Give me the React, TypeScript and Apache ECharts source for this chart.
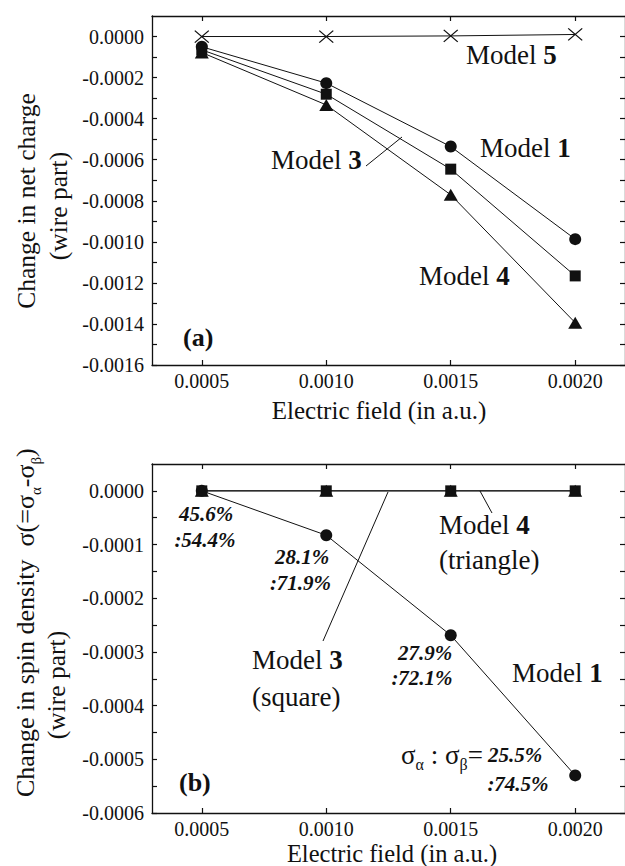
import React, { useEffect, useRef } from 'react';
import * as echarts from 'echarts';

// ---------- data ----------
const fieldValues = [0.0005, 0.001, 0.0015, 0.002];
const xTickValues = [0.0005, 0.001, 0.0015, 0.002];

// panel (a): change in net charge (wire part)
const chargeModel1 = [-0.00005, -0.000227, -0.000536, -0.000987];
const chargeModel3 = [-0.000065, -0.000281, -0.000646, -0.001166];
const chargeModel4 = [-0.000078, -0.000333, -0.000771, -0.001394];
const chargeModel5 = [0, 0, 0.000003, 0.00001];

// panel (b): change in spin density (wire part)
const spinModel1 = [0, -0.0000827, -0.000269, -0.00053];
const spinModel3 = [0, 0, 0, 0];
const spinModel4 = [0, 0, 0, 0];

// sigma_alpha : sigma_beta ratios for Model 1
const ratioAlpha = ['45.6%', '28.1%', '27.9%', '25.5%'];
const ratioBeta = [':54.4%', ':71.9%', ':72.1%', ':74.5%'];

// tick values
const chargeTickValues = [
  -0.0016, -0.0015, -0.0014, -0.0013, -0.0012, -0.0011, -0.001, -0.0009, -0.0008,
  -0.0007, -0.0006, -0.0005, -0.0004, -0.0003, -0.0002, -0.0001, 0,
];
const chargeLabelValues = [-0.0016, -0.0014, -0.0012, -0.001, -0.0008, -0.0006, -0.0004, -0.0002, 0];
const spinTickValues = [
  -0.0006, -0.00055, -0.0005, -0.00045, -0.0004, -0.00035, -0.0003, -0.00025, -0.0002,
  -0.00015, -0.0001, -0.00005, 0,
];
const spinLabelValues = [-0.0006, -0.0005, -0.0004, -0.0003, -0.0002, -0.0001, 0];

// ---------- styling ----------
const F = 'Liberation Serif';
const INK = '#111';

const pair = (ys: number[]) => fieldValues.map((x, i) => [x, ys[i]]);
const fmt = (v: number) => (Math.abs(v) < 1e-12 ? '0.0000' : v.toFixed(4));

const axisLine = { show: true, onZero: false, lineStyle: { color: INK, width: 1.3 } };
const tickStyle = { color: INK, width: 1.2 };
const labelStyle = { fontFamily: F, fontSize: 20, color: INK, fontWeight: 'normal' };

function xAxes(gridIndex: number) {
  const base = {
    type: 'value',
    gridIndex,
    min: 0.0003,
    max: 0.0022,
    axisLine,
    splitLine: { show: false },
    minorTick: { show: false },
  };
  return [
    {
      ...base,
      position: 'bottom',
      axisTick: { show: true, inside: true, length: 5, lineStyle: tickStyle, customValues: xTickValues },
      axisLabel: {
        show: true,
        customValues: xTickValues,
        formatter: fmt,
        ...labelStyle,
        margin: 6,
      },
    },
    {
      ...base,
      position: 'top',
      axisTick: { show: true, inside: true, length: 5, lineStyle: tickStyle, customValues: xTickValues },
      axisLabel: { show: false },
    },
  ];
}

function yAxes(gridIndex: number, min: number, max: number, ticks: number[], labels: number[]) {
  const base = {
    type: 'value',
    gridIndex,
    min,
    max,
    axisLine,
    splitLine: { show: false },
    minorTick: { show: false },
  };
  return [
    {
      ...base,
      position: 'left',
      axisTick: { show: true, inside: true, length: 5, lineStyle: tickStyle, customValues: ticks },
      axisLabel: {
        show: true,
        customValues: labels,
        formatter: fmt,
        ...labelStyle,
        margin: 8,
      },
    },
    {
      ...base,
      position: 'right',
      axisTick: { show: true, inside: true, length: 5, lineStyle: tickStyle, customValues: ticks },
      axisLabel: { show: false },
    },
  ];
}

function lineSeries(name: string, ys: number[], symbol: string, size: any, xi: number, yi: number, z: number) {
  const isPath = symbol.startsWith('path://');
  return {
    type: 'line',
    name,
    data: pair(ys),
    xAxisIndex: xi,
    yAxisIndex: yi,
    symbol,
    symbolSize: size,
    showSymbol: true,
    showAllSymbol: true,
    clip: false,
    silent: true,
    z,
    lineStyle: { color: INK, width: 1 },
    itemStyle: isPath
      ? { color: 'transparent', borderColor: INK, borderWidth: 1.2 }
      : { color: INK, borderWidth: 0 },
    emphasis: { disabled: true },
  };
}

const CROSS = 'path://M0,0L10,10M0,10L10,0';

const txt = (x: number, y: number, text: string, opts: any = {}, rotation = 0) => ({
  type: 'text',
  x,
  y,
  rotation,
  silent: true,
  z: 10,
  style: {
    text,
    fontFamily: F,
    fontSize: 27,
    fill: INK,
    align: 'left',
    verticalAlign: 'middle',
    ...opts,
  },
});

const modelRich = (size = 27) => ({
  r: { fontFamily: F, fontSize: size, fill: INK },
  b: { fontFamily: F, fontSize: size, fontWeight: 'bold', fill: INK },
});

const modelText = (x: number, y: number, num: string) =>
  txt(x, y, `{r|Model }{b|${num}}`, { rich: modelRich() });

const pct = (x: number, y: number, text: string) =>
  txt(x, y, text, { fontSize: 21, fontWeight: 'bold', fontStyle: 'italic', align: 'center' });

const leader = (x1: number, y1: number, x2: number, y2: number) => ({
  type: 'line',
  silent: true,
  z: 10,
  shape: { x1, y1, x2, y2 },
  style: { stroke: INK, lineWidth: 1 },
});

const option: any = {
  animation: false,
  backgroundColor: '#ffffff',
  textStyle: { fontFamily: F },
  grid: [
    { left: 152, top: 16, width: 475, height: 349, containLabel: false },
    { left: 152, top: 464, width: 475, height: 349, containLabel: false },
  ],
  xAxis: [...xAxes(0), ...xAxes(1)],
  yAxis: [
    ...yAxes(0, -0.0016, 0.0001, chargeTickValues, chargeLabelValues),
    ...yAxes(1, -0.0006, 0.00005, spinTickValues, spinLabelValues),
  ],
  series: [
    lineSeries('Model 5', chargeModel5, CROSS, [14, 12], 0, 0, 2),
    lineSeries('Model 1', chargeModel1, 'circle', 12, 0, 0, 3),
    lineSeries('Model 3', chargeModel3, 'rect', 11, 0, 0, 3),
    lineSeries('Model 4', chargeModel4, 'triangle', [14, 12], 0, 0, 3),
    lineSeries('Model 1', spinModel1, 'circle', 12, 2, 2, 3),
    lineSeries('Model 3', spinModel3, 'rect', 11, 2, 2, 3),
    lineSeries('Model 4', spinModel4, 'triangle', [14, 12], 2, 2, 3),
  ],
  graphic: {
    elements: [
      // ----- panel (a) -----
      txt(26, 201, 'Change in net charge', { fontSize: 25.5, align: 'center' }, Math.PI / 2),
      txt(58, 206, '(wire part)', { fontSize: 25.5, align: 'center' }, Math.PI / 2),
      txt(379, 410.5, 'Electric field (in a.u.)', { fontSize: 25, align: 'center' }),
      modelText(466, 55, '5'),
      modelText(480, 148, '1'),
      modelText(271, 160, '3'),
      modelText(419, 276, '4'),
      txt(183, 337, '(a)', { fontSize: 26, fontWeight: 'bold' }),
      leader(366, 166, 402, 137),

      // ----- panel (b) -----
      txt(
        25.5,
        797,
        '{m|Change in spin density\u00a0\u00a0σ(=σ}{s|α}{m|-σ}{s|β}{m|)}',
        {
          fontSize: 26,
          align: 'left',
          rich: {
            m: { fontFamily: F, fontSize: 26, lineHeight: 36, fill: INK },
            s: { fontFamily: F, fontSize: 15, lineHeight: 36, verticalAlign: 'bottom', fill: INK },
          },
        },
        Math.PI / 2,
      ),
      txt(56, 685, '(wire part)', { fontSize: 25.5, align: 'center' }, Math.PI / 2),
      txt(392, 853.5, 'Electric field (in a.u.)', { fontSize: 24.5, align: 'center' }),

      pct(206, 514, ratioAlpha[0]),
      pct(205, 540, ratioBeta[0]),
      pct(302, 557, ratioAlpha[1]),
      pct(300.5, 583, ratioBeta[1]),
      pct(425, 653, ratioAlpha[2]),
      pct(422, 678, ratioBeta[2]),
      txt(401, 755, `{g|σ}{s|α}{g|\u00a0:\u00a0σ}{s|β}{g|=}{p|\u00a0${ratioAlpha[3]}}`, {
        rich: {
          g: { fontFamily: F, fontSize: 27, lineHeight: 34, fill: INK },
          s: { fontFamily: F, fontSize: 16, lineHeight: 34, verticalAlign: 'bottom', fill: INK },
          p: { fontFamily: F, fontSize: 21, lineHeight: 34, fontWeight: 'bold', fontStyle: 'italic', fill: INK },
        },
      }),
      pct(518, 784, ratioBeta[3]),

      modelText(439, 525, '4'),
      txt(439, 560, '(triangle)'),
      modelText(252, 660, '3'),
      txt(252, 697, '(square)'),
      modelText(512, 673, '1'),
      txt(179, 782, '(b)', { fontSize: 26, fontWeight: 'bold' }),
      leader(323, 641, 388, 492),
      leader(480, 491, 492, 513),
    ],
  },
};

export default function App() {
  const ref = useRef<HTMLDivElement>(null);
  useEffect(() => {
    if (!ref.current) return;
    const chart = echarts.init(ref.current, null, { renderer: 'svg' });
    chart.setOption(option);
    return () => chart.dispose();
  }, []);
  return (
    <div
      ref={ref}
      style={{ position: 'fixed', left: 0, top: 0, width: 625, height: 866, background: '#fff' }}
    />
  );
}
